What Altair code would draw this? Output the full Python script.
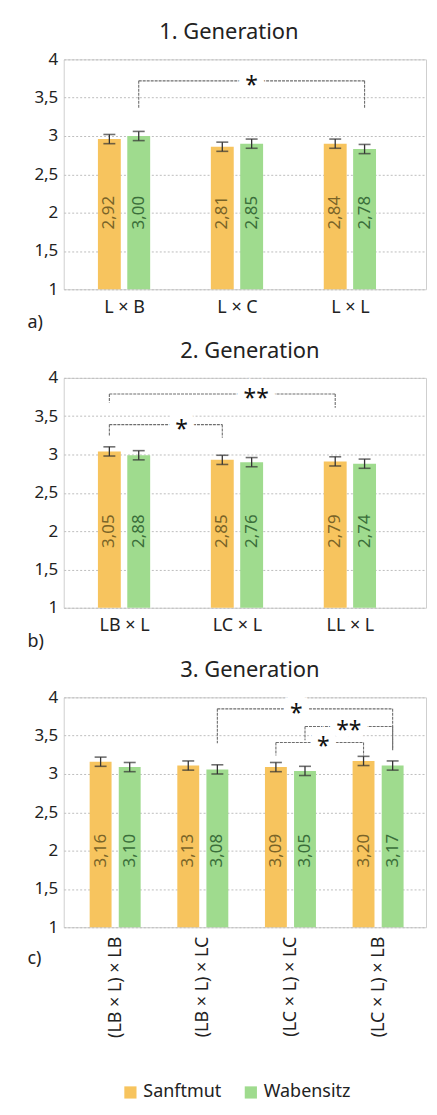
import altair as alt
import pandas as pd

series = ["Sanftmut", "Wabensitz"]
colors = ["#F7C45E", "#9FDB8E"]
text_colors = ["#7A6428", "#3A6E3A"]

# --- 1. Generation ---
g1_groups = ["L × B", "L × C", "L × L"]
g1_lab_s = [2.92, 2.81, 2.84]
g1_lab_w = [3.00, 2.85, 2.78]
g1_bar_s = [2.96, 2.86, 2.90]
g1_bar_w = [3.00, 2.90, 2.83]
g1_err_s = [0.06, 0.06, 0.06]
g1_err_w = [0.06, 0.06, 0.06]

# --- 2. Generation ---
g2_groups = ["LB × L", "LC × L", "LL × L"]
g2_lab_s = [3.05, 2.85, 2.79]
g2_lab_w = [2.88, 2.76, 2.74]
g2_bar_s = [3.04, 2.93, 2.91]
g2_bar_w = [2.99, 2.90, 2.88]
g2_err_s = [0.06, 0.06, 0.06]
g2_err_w = [0.06, 0.06, 0.06]

# --- 3. Generation ---
g3_groups = ["(LB × L) × LB", "(LB × L) × LC", "(LC × L) × LC", "(LC × L) × LB"]
g3_lab_s = [3.16, 3.13, 3.09, 3.20]
g3_lab_w = [3.10, 3.08, 3.05, 3.17]
g3_bar_s = [3.16, 3.11, 3.09, 3.17]
g3_bar_w = [3.09, 3.06, 3.04, 3.11]
g3_err_s = [0.06, 0.06, 0.06, 0.06]
g3_err_w = [0.06, 0.06, 0.06, 0.06]

# significance brackets: (group a, series a, group b, series b, line y, drop a, drop b, stars, star nudge)
g1_brackets = [(0, 1, 2, 1, 3.72, 3.37, 3.37, "*", 0.0)]
g2_brackets = [(0, 0, 2, 0, 3.79, 3.68, 3.61, "**", 0.30),
               (0, 0, 1, 0, 3.39, 3.24, 3.22, "*", 0.14)]
g3_brackets = [(1, 1, 3, 1, 3.85, 3.40, 3.31, "*", -0.10),
               (2, 1, 3, 1, 3.62, 3.44, 3.31, "**", 0.0),
               (2, 0, 3, 0, 3.41, 3.24, 3.24, "*", 0.04)]

FONT = "Noto Sans"


def fmt(v):
    return f"{v:.2f}".replace(".", ",")


def make_panel(title, title_dx, groups, bar_s, bar_w, lab_s, lab_w, err_s, err_w,
               brackets, domain, off, bar_width, letter, title_y, rotate):
    rows = []
    for i, g in enumerate(groups):
        for k, (b, l, e) in enumerate([(bar_s[i], lab_s[i], err_s[i]),
                                       (bar_w[i], lab_w[i], err_w[i])]):
            rows.append({
                "group": g, "gi": i, "series": series[k],
                "pos": i + (off if k else -off),
                "bar": b, "label": fmt(l), "lo": b - e, "hi": b + e,
                "base": 1.0, "mid": 2.0,
            })
    df = pd.DataFrame(rows)

    brows = []
    for (ga, sa, gb, sb, y, ya, yb, star, nudge) in brackets:
        xa = ga + (off if sa else -off)
        xb = gb + (off if sb else -off)
        brows.append({"xa": xa, "xb": xb, "y": y, "ya": ya, "yb": yb,
                      "star": star, "sx": (xa + xb) / 2 + nudge})
    bdf = pd.DataFrame(brows)

    labexpr = "[" + ",".join(f"'{g}'" for g in groups) + "][datum.value]"
    x_axis = alt.Axis(
        values=list(range(len(groups))), labelExpr=labexpr, grid=False, ticks=False,
        domain=False, labelFontSize=18, labelColor="#222", labelPadding=9,
        title=letter, titleFontSize=18, titleFontWeight="normal", titleColor="#222",
        titleX=-37, titleY=title_y, titleAlign="left", titleBaseline="middle",
        labelAngle=270 if rotate else 0,
        labelAlign="right" if rotate else "center",
        labelBaseline="middle" if rotate else "top",
    )
    xs = alt.Scale(domain=domain, nice=False, zero=False)
    y_axis = alt.Axis(
        values=[1, 1.5, 2, 2.5, 3, 3.5, 4],
        labelExpr="replace(format(datum.value, ''), '.', ',')",
        grid=True, gridColor="#bdbdbd", gridDash=[2, 2], ticks=False, domain=False,
        labelFontSize=17, labelColor="#222", labelPadding=6, title=None,
    )
    ys = alt.Scale(domain=[1, 4], nice=False, zero=False)

    def X(f):
        return alt.X(f, type="quantitative", scale=xs, axis=x_axis)

    def Y(f):
        return alt.Y(f, type="quantitative", scale=ys, axis=y_axis)

    base = alt.Chart(df)
    bars = base.mark_bar(width=bar_width).encode(
        x=X("pos"),
        y=Y("bar"),
        y2="base:Q",
        color=alt.Color("series:N", scale=alt.Scale(domain=series, range=colors),
                        legend=alt.Legend(title=None, orient="none", direction="horizontal",
                                          legendX=58, legendY=1029,
                                          symbolType="square",
                                          symbolSize=150, symbolStrokeWidth=0,
                                          labelFontSize=18, labelColor="#222",
                                          columnPadding=20, symbolOffset=0)),
    )
    labels = base.mark_text(angle=270, fontSize=17, baseline="middle", align="center").encode(
        x=X("pos"), y=Y("mid"), text="label:N",
        color=alt.condition("datum.series == 'Sanftmut'", alt.value(text_colors[0]),
                            alt.value(text_colors[1])),
    )
    erule = base.mark_rule(color="#333", strokeWidth=1.3).encode(x=X("pos"), y=Y("lo"), y2="hi:Q")
    etick_lo = base.mark_tick(color="#333", size=12, thickness=1.6, orient="horizontal").encode(
        x=X("pos"), y=Y("lo"))
    etick_hi = base.mark_tick(color="#333", size=12, thickness=1.6, orient="horizontal").encode(
        x=X("pos"), y=Y("hi"))

    bb = alt.Chart(bdf)
    line_style = dict(color="#6e6e6e", strokeWidth=1.1, strokeDash=[3, 1])
    hline = bb.mark_rule(**line_style).encode(x=X("xa"), x2="xb:Q", y=Y("y"))
    vleft = bb.mark_rule(**line_style).encode(x=X("xa"), y=Y("y"), y2="ya:Q")
    vright = bb.mark_rule(**line_style).encode(x=X("xb"), y=Y("y"), y2="yb:Q")
    halo = bb.mark_text(fontSize=23, baseline="middle", dy=5, color="white", stroke="white",
                        strokeWidth=14).encode(x=X("sx"), y=Y("y"), text="star:N")
    stars = bb.mark_text(fontSize=23, baseline="middle", dy=5, color="#111").encode(
        x=X("sx"), y=Y("y"), text="star:N")

    return alt.layer(bars, labels, erule, etick_lo, etick_hi, hline, vleft, vright, halo, stars).properties(
        width=364, height=231,
        title=alt.TitleParams(title, fontSize=22, fontWeight="normal", color="#222",
                              frame="group", anchor="middle", dx=title_dx, offset=6),
    )


p1 = make_panel("1. Generation", -16, g1_groups, g1_bar_s, g1_bar_w, g1_lab_s, g1_lab_w,
                g1_err_s, g1_err_w, g1_brackets, [-0.49, 2.63], 0.13, 23, "a)", 33, False)
p2 = make_panel("2. Generation", 5, g2_groups, g2_bar_s, g2_bar_w, g2_lab_s, g2_lab_w,
                g2_err_s, g2_err_w, g2_brackets, [-0.49, 2.63], 0.13, 23, "b)", 34, False)
p3 = make_panel("3. Generation", 5, g3_groups, g3_bar_s, g3_bar_w, g3_lab_s, g3_lab_w,
                g3_err_s, g3_err_w, g3_brackets, [-0.53, 3.49], 0.166, 22, "c)", 31, True)

chart = alt.vconcat(p1, p2, p3, spacing=7).properties(
    padding={"left": 18, "top": 10, "right": 2, "bottom": 5}
).configure(font=FONT).configure_view(stroke="#cfcfcf", strokeWidth=1)

chart.save("out.html", embed_options={"renderer": "svg", "actions": False})
